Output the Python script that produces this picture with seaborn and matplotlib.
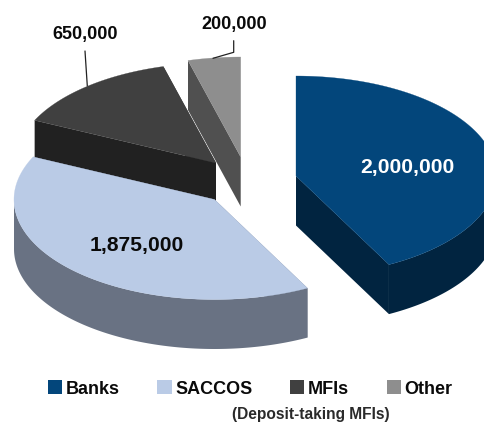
import numpy as np
import matplotlib
matplotlib.use("Agg")
import matplotlib.pyplot as plt
from matplotlib.patches import Patch
import seaborn as sns

categories = ["Banks", "SACCOS", "MFIs", "Other"]
values = [2000000, 1875000, 650000, 200000]
top_colors = ["#03467B", "#BACBE6", "#404040", "#8E8E8E"]
wall_colors = ["#012440", "#697283", "#212121", "#505050"]
note = "(Deposit-taking MFIs)"

# Exploded slice centres in pixel coordinates
centers = [(296, 176), (214.5, 199.5), (216, 163), (240.7, 157)]
RX, RY, DEPTH = 200.5, 100, 49.5

sns.set_theme(style="white")
plt.rcParams["font.family"] = ["Liberation Sans", "DejaVu Sans"]

fig = plt.figure(figsize=(4.84, 4.23), dpi=100)
ax = fig.add_axes([0, 0, 1, 1])
ax.set_xlim(0, 484)
ax.set_ylim(423, 0)
ax.axis("off")

shares = np.array(values) / np.sum(values) * 2 * np.pi
stops = np.concatenate([[0], np.cumsum(shares)])


def rim(cx, cy, start, end):
    theta = np.linspace(start, end, 160)
    return cx + RX * np.sin(theta), cy - RY * np.cos(theta)


def draw_slice(i):
    cx, cy = centers[i]
    start, end = stops[i], stops[i + 1]
    xs, ys = rim(cx, cy, start, end)
    # Radial walls first; the back-facing ones end up hidden under the top face
    for sx, sy in [(xs[0], ys[0]), (xs[-1], ys[-1])]:
        ax.fill([cx, sx, sx, cx], [cy, sy, sy + DEPTH, cy + DEPTH],
                color=wall_colors[i], lw=0)
    # Curved outer wall on the near half of the rim
    lo, hi = max(start, np.pi / 2), min(end, 3 * np.pi / 2)
    if lo < hi:
        wx, wy = rim(cx, cy, lo, hi)
        ax.fill(np.r_[wx, wx[::-1]], np.r_[wy, wy[::-1] + DEPTH],
                color=wall_colors[i], lw=0)
    # Top face
    ax.fill(np.r_[cx, xs], np.r_[cy, ys], color=top_colors[i], lw=0.2)


for i in [3, 2, 1, 0]:
    draw_slice(i)

fmt = [f"{v:,}" for v in values]
ax.text(407, 168, fmt[0], color="white", fontsize=15.2, fontweight="bold",
        ha="center", va="center")
ax.text(137, 245, fmt[1], color="#0A0A0A", fontsize=15.2, fontweight="bold",
        ha="center", va="center")
ax.text(85, 35, fmt[2], color="#0A0A0A", fontsize=13, fontweight="bold",
        ha="center", va="center")
ax.text(234, 25, fmt[3], color="#0A0A0A", fontsize=13, fontweight="bold",
        ha="center", va="center")

# Leader lines to the two small slices
ax.plot([85, 87.3], [51, 86], color="#222222", lw=0.9)
ax.plot([233.7, 233.7, 213], [40.7, 52.3, 58.3], color="#222222", lw=0.9)

handles = [Patch(facecolor=c, edgecolor="none") for c in top_colors]
ax.legend(handles, categories, ncol=4, frameon=False, loc="center left",
          bbox_to_anchor=(48, 389), bbox_transform=ax.transData,
          prop={"weight": "bold", "size": 13}, handlelength=0.78,
          handleheight=0.78, handletextpad=0.2, columnspacing=2.09,
          borderpad=0, borderaxespad=0, labelcolor="#0A0A0A")

ax.text(311, 415, note, color="#2A2A2A", fontsize=11.2, fontweight="bold",
        ha="center", va="center")

fig.savefig("out.png", dpi=100)
